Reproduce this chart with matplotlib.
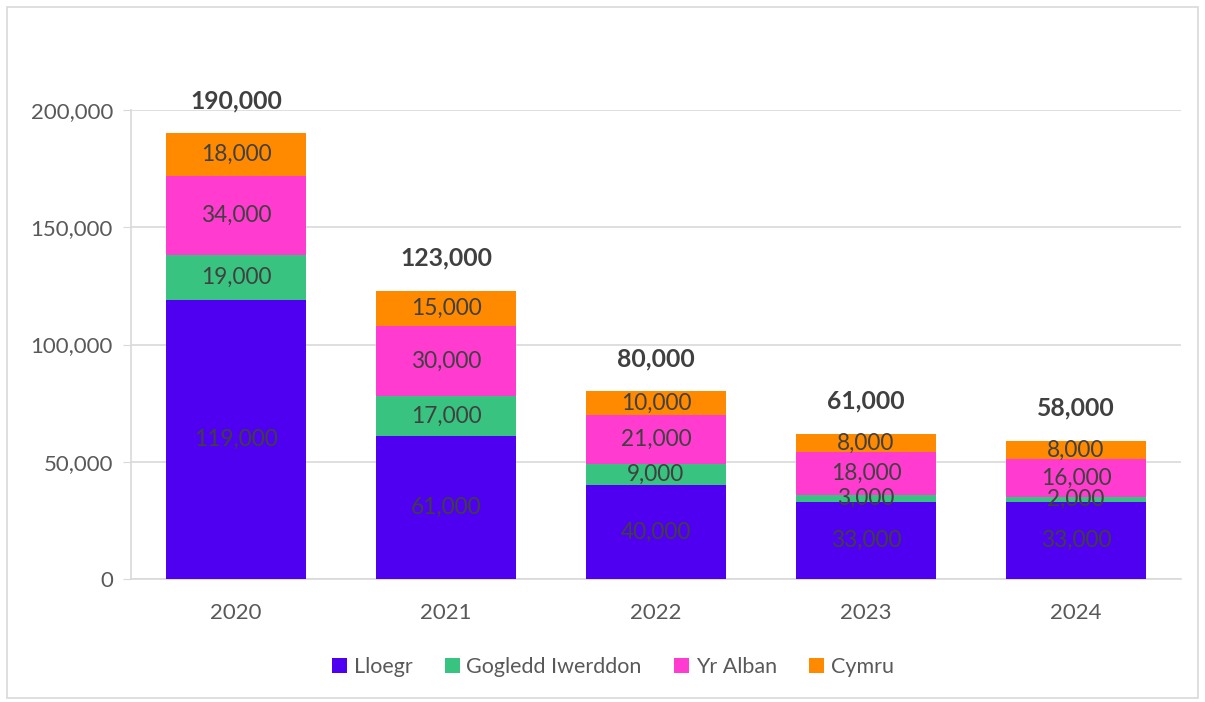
import matplotlib.pyplot as plt
import matplotlib.patches as mpatches
import numpy as np

plt.rcParams['font.family'] = ['Lato', 'DejaVu Sans']

# 数据
years = ['2020', '2021', '2022', '2023', '2024']
series_names = ['Lloegr', 'Gogledd Iwerddon', 'Yr Alban', 'Cymru']
lloegr = [119000, 61000, 40000, 33000, 33000]
gogledd = [19000, 17000, 9000, 3000, 2000]
alban = [34000, 30000, 21000, 18000, 16000]
cymru = [18000, 15000, 10000, 8000, 8000]
totals = [190000, 123000, 80000, 61000, 58000]
colors = ['#5000F0', '#38C480', '#FF3BD0', '#FF8A00']

fig = plt.figure(figsize=(12.05, 7.02), dpi=100)
ax = fig.add_axes([131 / 1205, 123 / 702, 1050 / 1205, 469 / 702])

# 外框
fig.patches.append(mpatches.Rectangle((7 / 1205, 4 / 702), 1191 / 1205, 691 / 702,
                                      transform=fig.transFigure, fill=False,
                                      edgecolor='#D9D9D9', linewidth=1.2))

x = np.arange(len(years))
bottom = np.zeros(len(years))
for name, vals, c in zip(series_names, [lloegr, gogledd, alban, cymru], colors):
    ax.bar(x, vals, 0.667, bottom=bottom, color=c, label=name, zorder=3)
    for xi, b, v in zip(x, bottom, vals):
        ax.text(xi, b + v / 2, f'{v:,}', ha='center', va='center',
                fontsize=16.3, color='#404040', zorder=4)
    bottom += np.array(vals)

# 总数标签
for xi, top, t in zip(x, bottom, totals):
    ax.text(xi, top + 14000, f'{t:,}', ha='center', va='center',
            fontsize=17.8, fontweight='bold', color='#404040', clip_on=False)

ax.set_xlim(-0.5, 4.5)
ax.set_ylim(0, 200000)
ax.set_yticks(range(0, 200001, 50000))
ax.set_yticklabels([f'{v:,}' for v in range(0, 200001, 50000)])
ax.set_xticks(x)
ax.set_xticklabels(years)
ax.tick_params(axis='y', length=6, color='#D9D9D9', pad=7, labelsize=16, labelcolor='#595959')
ax.tick_params(axis='x', length=0, pad=17, labelsize=16, labelcolor='#595959')
ax.grid(axis='y', color='#D9D9D9', linewidth=1.2, zorder=0)
for s in ['top', 'right']:
    ax.spines[s].set_visible(False)
for s in ['left', 'bottom']:
    ax.spines[s].set_color('#D9D9D9')
    ax.spines[s].set_linewidth(1.2)

fig.legend(loc='center', bbox_to_anchor=(613 / 1205, 1 - 667 / 702), ncol=4,
           frameon=False, fontsize=15.5, handlelength=0.7, handleheight=0.7,
           handletextpad=0.3, columnspacing=1.5, labelcolor='#595959')

plt.savefig('out.png', dpi=100)
plt.close()
